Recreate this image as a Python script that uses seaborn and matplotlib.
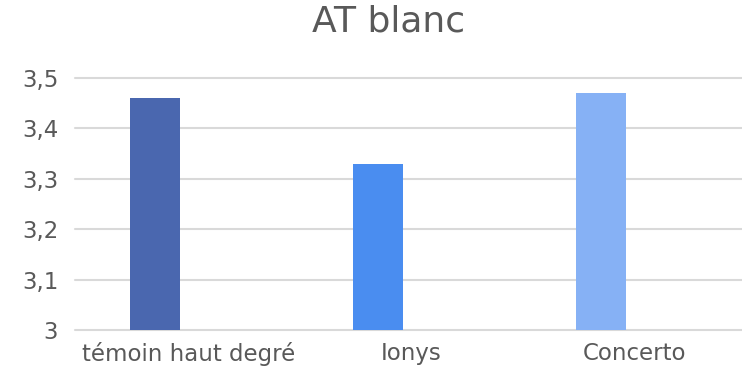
import matplotlib
matplotlib.use("Agg")
import matplotlib.pyplot as plt
import seaborn as sns
from matplotlib.ticker import FuncFormatter

categories = ["témoin haut degré", "Ionys", "Concerto"]
values = [3.46, 3.33, 3.47]
colors = ["#4A67AF", "#4A8DF0", "#86B1F5"]
yticks = [3.0, 3.1, 3.2, 3.3, 3.4, 3.5]
title = "AT blanc"

sns.set_theme(style="white")
plt.rcParams["font.family"] = ["DejaVu Sans"]
grey = "#595959"

fig = plt.figure(figsize=(7.42, 3.78), dpi=100)
ax = fig.add_axes([0.101, 0.127, 0.899, 0.667])
sns.barplot(x=categories, y=values, hue=categories, palette=colors,
            saturation=1, width=0.224, legend=False, ax=ax, zorder=3,
            linewidth=0, edgecolor="none")
ax.set_ylim(3.0, 3.5)
ax.set_xlim(-0.36, 2.63)
ax.set_yticks(yticks)
ax.yaxis.set_major_formatter(FuncFormatter(lambda v, p: ("%g" % v).replace(".", ",")))
ax.grid(axis="y", color="#D9D9D9", linewidth=1.5, zorder=0)
ax.set_axisbelow(True)
for gl in ax.get_ygridlines():
    gl.set_clip_on(False)
for s in ax.spines.values():
    s.set_visible(False)
offsets = [0.148, 0.148, 0.148]
ax.set_xticks([i + o for i, o in enumerate(offsets)])
ax.set_xticklabels(categories)
ax.tick_params(axis="both", length=0, colors=grey, labelsize=16.5)
ax.tick_params(axis="y", pad=12)
ax.tick_params(axis="x", pad=9)
ax.set_xlabel("")
ax.set_ylabel("")
fig.text(0.523, 0.943, title, ha="center", va="center", fontsize=26, color=grey)
fig.savefig("out.png", dpi=100)
